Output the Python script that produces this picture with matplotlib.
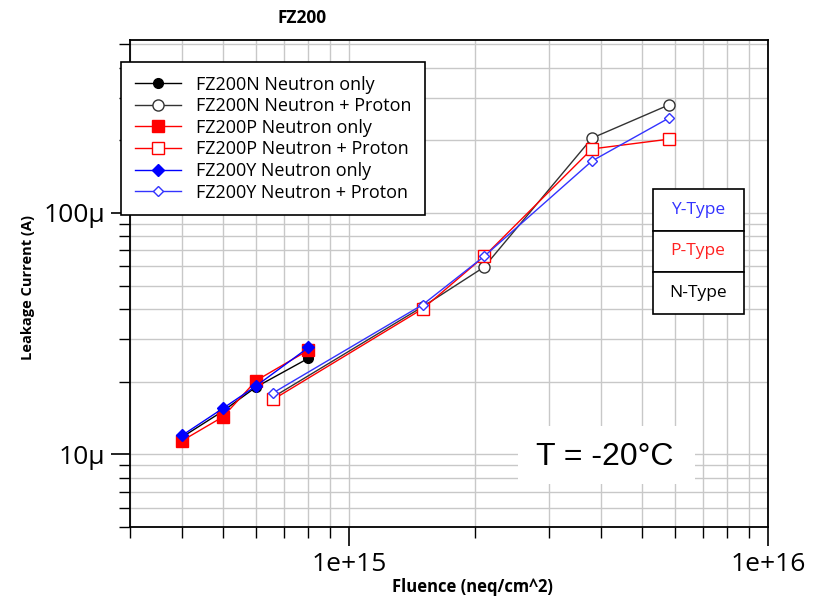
import numpy as np
import matplotlib.pyplot as plt
from matplotlib.ticker import FixedLocator, FixedFormatter, LogLocator, NullFormatter

# fluence points (neq/cm^2)
fluence_n = [4e14, 5e14, 6e14, 8e14]
fluence_np = [6.6e14, 1.5e15, 2.1e15, 3.8e15, 5.8e15]

# leakage current (A), neutron only
n_only = [1.18e-5, 1.51e-5, 1.90e-5, 2.50e-5]
p_only = [1.14e-5, 1.43e-5, 2.02e-5, 2.70e-5]
y_only = [1.20e-5, 1.55e-5, 1.92e-5, 2.77e-5]

# leakage current (A), neutron + proton
n_np = [1.73e-5, 4.09e-5, 5.96e-5, 2.04e-4, 2.80e-4]
p_np = [1.69e-5, 4.01e-5, 6.60e-5, 1.84e-4, 2.02e-4]
y_np = [1.80e-5, 4.17e-5, 6.60e-5, 1.64e-4, 2.47e-4]

type_labels = ['Y-Type', 'P-Type', 'N-Type']
type_colors = ['#3333ff', '#ff2222', 'black']

plt.rcParams['font.family'] = ['Open Sans', 'DejaVu Sans']

W, H = 817, 597
fig = plt.figure(figsize=(W / 100, H / 100), dpi=100)
ax = fig.add_axes([130 / W, 70 / H, 638 / W, 487 / H])


# pixel position -> axes fraction
def px(x, y):
    return (x - 130) / 638, 1 - (y - 40) / 487


ax.plot(fluence_n, n_only, '-o', color='black', ms=7, lw=1, label='FZ200N Neutron only')
ax.plot(fluence_np, n_np, '-o', color='#333333', mfc='white', mec='#333333', ms=8, lw=1,
        label='FZ200N Neutron + Proton')
ax.plot(fluence_n, p_only, '-s', color='red', ms=8, lw=1, label='FZ200P Neutron only')
ax.plot(fluence_np, p_np, '-s', color='red', mfc='white', ms=8, lw=1,
        label='FZ200P Neutron + Proton')
ax.plot(fluence_n, y_only, '-D', color='blue', ms=6, lw=1, label='FZ200Y Neutron only')
ax.plot(fluence_np, y_np, '-D', color='#3333ff', mfc='white', ms=5, lw=1,
        label='FZ200Y Neutron + Proton')

ax.set_xscale('log')
ax.set_yscale('log')
ax.set_xlim(3e14, 1e16)
ax.set_ylim(5e-6, 5.2e-4)

ax.xaxis.set_major_locator(FixedLocator([1e15, 1e16]))
ax.xaxis.set_major_formatter(FixedFormatter(['1e+15', '1e+16']))
ax.xaxis.set_minor_locator(LogLocator(base=10, subs=np.arange(2, 10)))
ax.xaxis.set_minor_formatter(NullFormatter())
ax.yaxis.set_major_locator(FixedLocator([1e-5, 1e-4]))
ax.yaxis.set_major_formatter(FixedFormatter(['10µ', '100µ']))
ax.yaxis.set_minor_locator(LogLocator(base=10, subs=np.arange(2, 10)))
ax.yaxis.set_minor_formatter(NullFormatter())

ax.tick_params(which='major', direction='out', length=14, width=1.2, labelsize=19, pad=4)
ax.tick_params(which='minor', direction='out', length=8, width=1)
ax.grid(True, which='both', color='#c8c8c8', lw=1)
ax.set_axisbelow(True)
for s in ax.spines.values():
    s.set_linewidth(1.3)

leg = ax.legend(loc='upper left', bbox_to_anchor=px(121, 62), borderaxespad=0,
                fontsize=13, frameon=True, fancybox=False, edgecolor='black',
                framealpha=1, handlelength=2.6, labelspacing=0.2, borderpad=0.75,
                handletextpad=0.8)
leg.get_frame().set_linewidth(1.2)

# type boxes
box_h = 41.5
for i, (lab, col) in enumerate(zip(type_labels, type_colors)):
    x0, y0 = px(653, 189 + box_h * (i + 1))
    rect = plt.Rectangle((x0, y0), 91 / 638, box_h / 487, transform=ax.transAxes,
                         facecolor='white', edgecolor='black', lw=1.2, zorder=5)
    ax.add_patch(rect)
    tx, ty = px(698, 189 + box_h * (i + 0.5))
    ax.text(tx, ty, lab, color=col, transform=ax.transAxes, ha='center', va='center',
            fontsize=12.5, zorder=6)

# temperature label on a white patch
bx, by = px(518, 484)
ax.add_patch(plt.Rectangle((bx, by), 177 / 638, 58 / 487, transform=ax.transAxes,
                           facecolor='white', edgecolor='none', zorder=5))
tx, ty = px(605, 457)
ax.text(tx, ty, 'T = -20°C', transform=ax.transAxes, ha='center', va='center',
        fontsize=23, family='Liberation Sans', zorder=6)

fig.text(302 / W, 1 - 18 / H, 'FZ200', ha='center', va='center', fontsize=12.5,
         fontweight='bold')
fig.text(28 / W, 1 - 287 / H, 'Leakage Current (A)', ha='center', va='center',
         rotation=90, fontsize=10.5, fontweight='bold')
fig.text(472 / W, 1 - 587 / H, 'Fluence (neq/cm^2)', ha='center', va='center',
         fontsize=12, fontweight='bold')

fig.savefig('out.png', dpi=100)
